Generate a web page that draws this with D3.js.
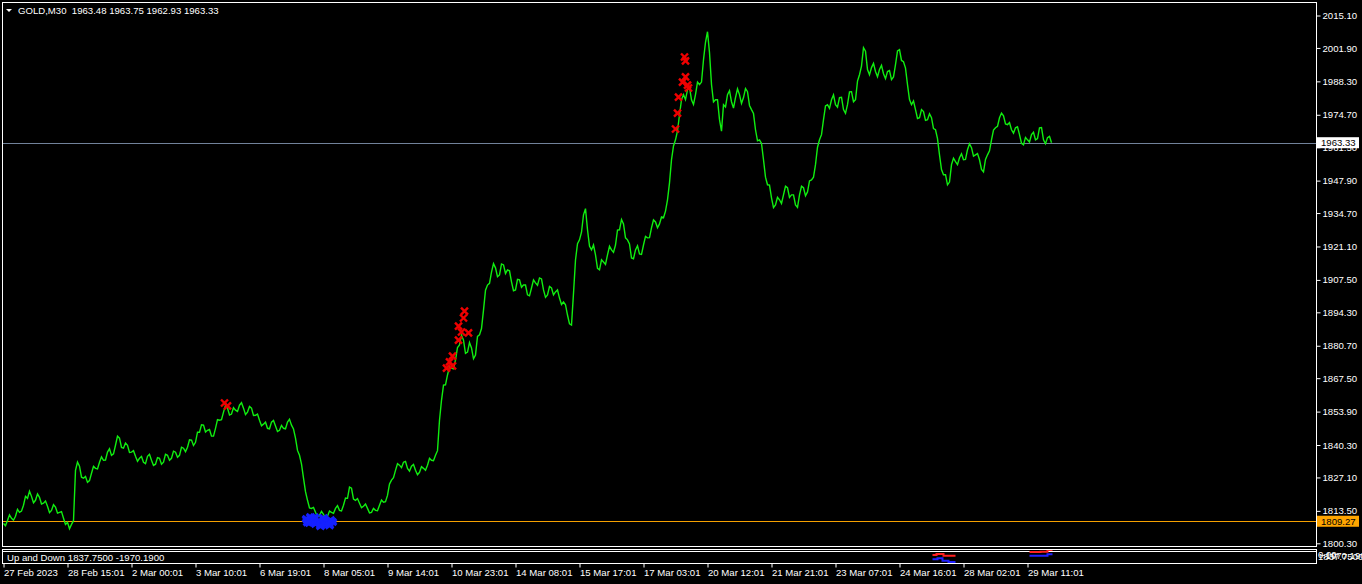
<!DOCTYPE html>
<html><head><meta charset="utf-8">
<script src="https://cdn.jsdelivr.net/npm/d3@7"></script>
<style>
html,body{margin:0;padding:0;background:#000;overflow:hidden}
text{font-family:"Liberation Sans",Arial,sans-serif;font-size:9.6px;fill:#fff;white-space:pre}
</style>
</head><body><svg id="c" width="1362" height="584"></svg>
<script>
// ---- data ----
const titleText = "GOLD,M30  1963.48 1963.75 1962.93 1963.33";
const indicatorName = "Up and Down 1837.7500 -1970.1900";
const barStep = 2; // one value every 2 bars (M30): closes on even samples, midCloses between them
const closes = [
1808.4,1809.6,1810.5,1811.3,1812.9,1815.8,1818.6,1819.4,1817.8,1819.0,
1816.6,1815.4,1813.7,1815.0,1812.9,1810.5,1808.8,1808.0,1830.0,1831.7,
1826.8,1825.1,1828.8,1830.8,1833.3,1834.1,1837.4,1836.1,1840.2,1843.1,
1839.0,1840.2,1837.4,1835.7,1834.9,1833.3,1835.7,1834.1,1832.5,1834.9,
1833.3,1836.1,1834.9,1837.4,1836.1,1839.0,1839.4,1842.3,1841.4,1845.5,
1848.4,1846.3,1843.9,1847.1,1850.4,1853.7,1855.3,1852.9,1854.5,1856.5,
1855.3,1853.7,1855.3,1852.4,1850.4,1848.8,1847.1,1849.6,1848.0,1846.3,
1847.1,1849.6,1848.4,1843.1,1836.1,1826.8,1817.8,1814.5,1812.9,1811.7,
1812.1,1811.3,1812.9,1814.5,1813.7,1815.8,1818.6,1822.7,1817.8,1816.6,
1815.4,1814.5,1812.9,1813.7,1815.8,1817.0,1819.8,1826.0,1830.0,1832.1,
1833.3,1830.8,1831.7,1830.0,1829.2,1830.8,1832.1,1834.1,1836.1,1850.4,
1864.7,1868.8,1871.6,1874.9,1881.0,1883.0,1878.1,1879.8,1876.9,1885.1,
1895.2,1905.4,1910.7,1912.4,1909.5,1913.6,1911.6,1906.7,1903.4,1907.5,
1905.4,1901.4,1904.2,1906.3,1908.3,1903.4,1901.4,1904.2,1902.6,1900.1,
1898.5,1893.2,1889.1,1915.6,1923.8,1934.0,1927.9,1919.7,1917.7,1911.6,
1914.8,1917.7,1919.7,1921.7,1927.9,1930.3,1923.8,1916.4,1919.7,1918.1,
1921.7,1924.6,1928.7,1931.1,1930.3,1932.8,1940.1,1956.4,1964.5,1974.7,
1982.9,1984.9,1980.8,1982.9,1987.0,1997.1,2008.5,1987.0,1980.8,1972.7,
1978.8,1982.9,1980.0,1981.7,1982.9,1981.7,1984.1,1976.8,1968.6,1964.5,
1956.4,1946.2,1940.9,1938.0,1940.1,1942.1,1945.0,1942.1,1938.0,1942.1,
1945.0,1943.3,1948.2,1954.4,1964.5,1972.7,1978.8,1980.8,1978.8,1981.7,
1976.8,1978.8,1984.1,1980.8,1991.0,2002.0,1993.1,1993.9,1992.3,1993.1,
1991.4,1992.3,1989.0,1995.1,2001.2,1996.3,1987.0,1978.8,1976.8,1973.5,
1976.0,1972.7,1973.5,1968.6,1958.4,1950.3,1946.2,1954.4,1955.6,1957.2,
1956.4,1960.5,1961.3,1958.4,1956.4,1951.5,1958.4,1964.5,1969.4,1973.5,
1974.3,1970.7,1968.6,1969.4,1966.6,1962.5,1964.5,1966.6,1964.5,1969.4,
1964.5,1965.4,1963.3];
const midCloses = [
1807.5,1811.9,1809.7,1814.1,1813.4,1819.4,1821.5,1816.8,1820.4,1816.3,
1817.5,1812.8,1816.0,1812.6,1813.2,1808.0,1806.2,1809.5,1833.4,1827.2,
1827.5,1825.8,1831.6,1830.6,1835.5,1834.2,1838.8,1836.7,1843.9,1839.3,
1841.1,1837.3,1838.0,1833.7,1835.6,1832.7,1836.5,1832.0,1835.2,1832.5,
1836.5,1834.1,1837.8,1835.3,1839.4,1837.6,1842.4,1840.1,1845.5,1848.5,
1845.6,1846.6,1843.9,1850.6,1850.6,1856.5,1852.5,1855.5,1854.0,1857.5,
1852.7,1856.0,1852.3,1852.9,1848.1,1849.6,1846.9,1850.3,1845.8,1848.3,
1846.9,1850.8,1846.8,1838.1,1832.5,1821.3,1814.7,1814.9,1811.1,1813.3,
1810.5,1813.4,1812.5,1815.6,1813.5,1818.7,1823.2,1818.3,1818.5,1814.8,
1816.3,1812.7,1814.5,1813.6,1817.9,1817.2,1824.4,1827.0,1832.7,1831.1,
1833.6,1829.7,1832.4,1828.2,1831.5,1830.0,1834.9,1833.9,1838.0,1858.5,
1864.8,1872.2,1871.3,1880.0,1885.0,1877.6,1882.0,1875.4,1884.5,1887.7,
1903.3,1906.1,1914.1,1908.8,1914.0,1910.1,1911.2,1903.1,1907.7,1904.5,
1905.4,1901.0,1907.5,1905.3,1907.9,1900.4,1904.8,1901.4,1903.4,1897.5,
1897.4,1889.6,1902.0,1922.2,1926.9,1936.5,1921.3,1921.7,1912.2,1915.7,
1913.8,1921.2,1918.7,1927.8,1932.1,1924.6,1922.1,1916.1,1921.4,1917.9,
1925.2,1924.7,1931.9,1928.7,1933.1,1935.5,1947.0,1962.0,1968.1,1980.8,
1980.9,1985.9,1978.9,1988.0,1988.0,2004.2,2000.0,1979.9,1980.8,1968.0,
1977.9,1984.5,1977.4,1985.3,1979.3,1985.4,1978.5,1975.2,1964.1,1963.0,
1949.3,1946.1,1936.9,1941.1,1938.6,1945.6,1941.1,1942.1,1937.0,1945.6,
1941.7,1947.8,1949.3,1961.5,1966.6,1978.3,1977.3,1982.8,1977.8,1981.8,
1975.3,1984.0,1980.0,1988.4,1994.5,2000.6,1991.0,1995.6,1990.2,1994.8,
1989.4,1992.7,1990.1,2000.7,1996.8,1993.7,1980.9,1980.3,1973.2,1976.8,
1972.4,1975.1,1969.1,1965.0,1952.4,1950.3,1947.3,1957.0,1954.4,1958.8,
1956.5,1962.9,1957.9,1958.9,1952.5,1956.5,1960.0,1968.5,1970.0,1975.4,
1971.0,1971.5,1967.2,1969.8,1963.1,1965.5,1963.6,1967.6,1965.0,1969.5,
1962.9,1965.9];
const priceTicks = [2015.10,2001.90,1988.30,1974.70,1961.50,1947.90,1934.70,1921.10,1907.50,
  1894.30,1880.70,1867.50,1853.90,1840.30,1827.10,1813.50,1800.30];
const timeLabels = ["27 Feb 2023","28 Feb 15:01","2 Mar 00:01","3 Mar 10:01","6 Mar 19:01",
  "8 Mar 05:01","9 Mar 14:01","10 Mar 23:01","14 Mar 08:01","15 Mar 17:01","17 Mar 03:01",
  "20 Mar 12:01","21 Mar 21:01","23 Mar 07:01","24 Mar 16:01","28 Mar 02:01","29 Mar 11:01"];
const barsPerLabel = 64;
const lastPrice = 1963.33;
const levelPrice = 1809.27;
// [bar, price]
const sellMarks = [[221,1857.4],[224,1856.2],
  [461,1894.8],[460,1892.0],[455,1888.7],[458,1886.3],[465,1885.9],[455,1883.0],
  [449,1876.5],[446,1874.1],[443,1871.6],[449,1872.5],
  [681,1998.2],[682,1996.6],[682,1990.1],[684,1986.8],[679,1988.0],[685,1985.6],
  [675,1981.9],[674,1975.4],[672,1968.9]];
const buyMarks = [[303,1810.2],[306,1808.6],[309,1809.8],[312,1808.2],[315,1809.4],[318,1808.2],
  [321,1809.4],[324,1808.6],[327,1809.8],[329,1809.0],[307,1811.0],[317,1807.3],
  [304,1808.8],[311,1810.9],[320,1810.6],[326,1807.6]];
// indicator sub-window: [bar, value]
const indUpA = [[929,373.2],[933,373.2],[933,666.1],[940,666.1],[940,168.1],[952,168.1]];
const indDnA = [[929,-886.4],[934,-886.4],[934,-593.5],[939,-593.5],[939,-1296.5],[945,-1296.5],[945,-1677.3],[952,-1677.3]];
const indUpB = [[1026,1251.9],[1037,1251.9],[1037,1339.8],[1044,1339.8],[1044,1830],[1049,1830]];
const indDnB = [[1026,168.1],[1044,168.1],[1044,578.2],[1049,578.2]];
const indDomain = [-1970.19, 1837.75];

// table of [bar, price] built from the two arrays
const series = [];
closes.forEach((c,k)=>{
  series.push([k*2*barStep, c]);
  if (k < midCloses.length) series.push([(k*2+1)*barStep, midCloses[k]]);
});

// ---- drawing ----
const svg = d3.select("#c");
svg.append("rect").attr("width",1362).attr("height",584).attr("fill","#000");
const x = d3.scaleLinear().domain([0,1313]).range([3.5,1316.5]);
const y = d3.scaleLinear().domain([1800.3,2015.1]).range([543.3,15.5]);
const ys = d3.scaleLinear().domain(indDomain).range([563,550]);

svg.append("clipPath").attr("id","mc").append("rect").attr("x",3).attr("y",3).attr("width",1313).attr("height",543);
svg.append("clipPath").attr("id","sc").append("rect").attr("x",3).attr("y",550).attr("width",1313).attr("height",13);

const main = svg.append("g").attr("clip-path","url(#mc)");
main.append("line").attr("x1",2).attr("x2",1316).attr("y1",Math.round(y(lastPrice))+0.5).attr("y2",Math.round(y(lastPrice))+0.5)
  .attr("stroke","#71829a").attr("stroke-width",1);
main.append("line").attr("x1",2).attr("x2",1316).attr("y1",Math.round(y(levelPrice))+0.5).attr("y2",Math.round(y(levelPrice))+0.5)
  .attr("stroke","#f5a000").attr("stroke-width",1);
main.append("path").datum(series)
  .attr("d",d3.line().x(d=>x(d[0])).y(d=>y(d[1])))
  .attr("fill","none").attr("stroke","#10ee10").attr("stroke-width",1.4).attr("stroke-linejoin","miter");
main.selectAll(".b").data(buyMarks).enter().append("path")
  .attr("transform",d=>`translate(${x(d[0])},${y(d[1])})`).attr("d","M-4,-3L4,3M4,-3L-4,3M-4,0L4,0")
  .attr("stroke","#1420ff").attr("stroke-width",3.2);
main.selectAll(".s").data(sellMarks).enter().append("path")
  .attr("transform",d=>`translate(${x(d[0])},${y(d[1])})`).attr("d","M-3.5,-3.5L3.5,3.5M3.5,-3.5L-3.5,3.5")
  .attr("stroke","#f00000").attr("stroke-width",2.4);

// frames
svg.append("rect").attr("x",2.5).attr("y",2.5).attr("width",1314).attr("height",544).attr("fill","none").attr("stroke","#fff");
svg.append("rect").attr("x",2.5).attr("y",549.5).attr("width",1314).attr("height",14).attr("fill","none").attr("stroke","#fff");
svg.append("line").attr("x1",2.5).attr("x2",1316.5).attr("y1",551.5).attr("y2",551.5).attr("stroke","#fff");

const sub = svg.append("g").attr("clip-path","url(#sc)");
const sl = d3.line().x(d=>x(d[0])).y(d=>ys(d[1]));
[[indUpA,"#ff2020"],[indUpB,"#ff2020"],[indDnA,"#2020ff"],[indDnB,"#2020ff"]].forEach(([d,c])=>{
  sub.append("path").datum(d).attr("d",sl).attr("fill","none").attr("stroke",c).attr("stroke-width",2);
});

svg.append("path").attr("d","M6,9L12,9L9,12Z").attr("fill","#fff");
svg.append("text").attr("x",18).attr("y",13.5).text(titleText);
svg.append("text").attr("x",7).attr("y",561).text(indicatorName);

const ya = svg.append("g").attr("transform","translate(1316.5,0)")
  .call(d3.axisRight(y).tickValues(priceTicks).tickSize(4).tickFormat(d3.format(".2f")));
ya.select(".domain").remove();
ya.selectAll("line").attr("stroke","#fff");
ya.selectAll("text").attr("fill","#fff").attr("x",6).style("font-size","9.6px").style("font-family","Liberation Sans");

function box(p,bg){
  const cy = y(p);
  svg.append("rect").attr("x",1317).attr("y",cy-5.5).attr("width",42).attr("height",11).attr("fill",bg);
  svg.append("text").attr("x",1321).attr("y",cy+3.5).style("fill","#000").text(d3.format(".2f")(p));
}
box(lastPrice,"#fff");
box(levelPrice,"#ffa500");

svg.append("text").attr("x",1318).attr("y",558).text(d3.format(".2f")(0));
svg.append("text").attr("x",1318).attr("y",560).text(d3.format(".4f")(indDomain[1]));
svg.append("text").attr("x",1320).attr("y",559).text(d3.format(".4f")(indDomain[0]));

const xa = svg.append("g").attr("transform","translate(0,563.5)")
  .call(d3.axisBottom(x).tickValues(timeLabels.map((d,i)=>i*barsPerLabel)).tickSize(4).tickFormat((d,i)=>timeLabels[i]));
xa.select(".domain").remove();
xa.selectAll("line").attr("stroke","#fff");
xa.selectAll("text").attr("fill","#fff").attr("text-anchor","start").attr("x",0).attr("y",5.5)
  .style("font-size","9.6px").style("font-family","Liberation Sans");
</script></body></html>
